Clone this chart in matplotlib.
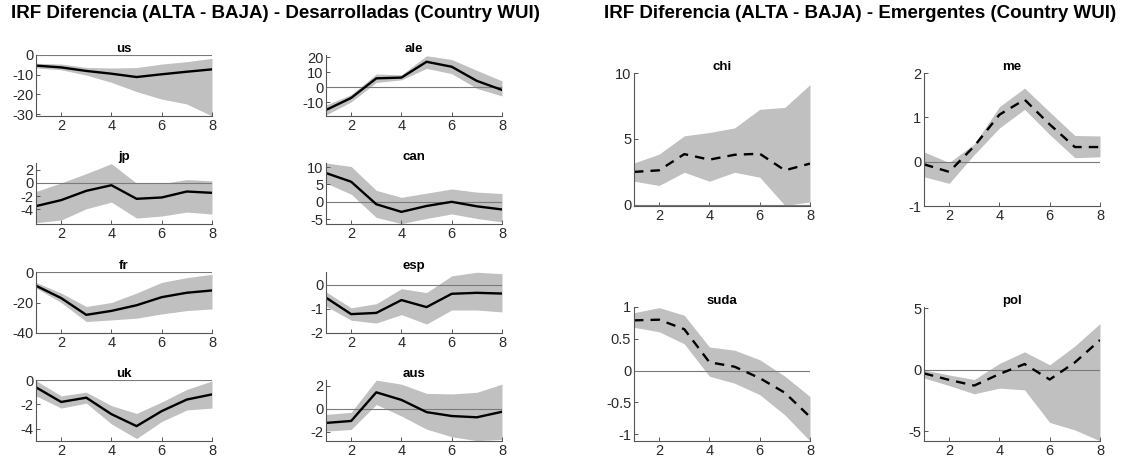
import numpy as np
import matplotlib
matplotlib.use("Agg")
import matplotlib.pyplot as plt

plt.rcParams["font.family"] = ["Liberation Sans", "DejaVu Sans"]

horizons = [1, 2, 3, 4, 5, 6, 7, 8]

# --- Desarrolladas ---
us_irf = [-5.4, -6.3, -8.1, -9.5, -11.2, -9.8, -8.5, -7.3]
us_hi = [-4.2, -4.6, -6.3, -6.6, -6.4, -4.6, -3.4, -1.7]
us_lo = [-6.6, -7.5, -10.2, -13.9, -18.6, -22.4, -24.9, -31.0]

ale_irf = [-15.0, -7.0, 6.0, 6.5, 17.0, 13.7, 4.3, -1.7]
ale_hi = [-11.7, -4.8, 8.9, 8.3, 21.0, 18.5, 11.3, 4.3]
ale_lo = [-18.3, -9.6, 3.3, 5.0, 12.6, 9.1, -0.7, -5.7]

jp_irf = [-3.5, -2.6, -1.2, -0.35, -2.4, -2.2, -1.3, -1.5]
jp_hi = [-1.3, 0.0, 1.4, 2.9, -0.05, -0.1, 0.5, 0.3]
jp_lo = [-6.0, -5.6, -3.9, -2.9, -5.3, -5.0, -4.4, -4.7]

can_irf = [8.3, 5.8, -0.7, -2.9, -1.2, 0.0, -1.3, -2.2]
can_hi = [11.2, 10.2, 3.3, 1.3, 2.5, 3.7, 2.8, 2.4]
can_lo = [5.4, 2.2, -4.5, -6.3, -4.8, -3.5, -4.8, -5.8]

fr_irf = [-9.0, -17.1, -28.1, -25.5, -21.8, -16.5, -13.6, -12.1]
fr_hi = [-6.8, -13.8, -22.6, -20.0, -13.8, -6.8, -3.7, -1.5]
fr_lo = [-10.5, -20.0, -32.5, -31.4, -30.3, -27.5, -25.3, -24.2]

esp_irf = [-0.54, -1.22, -1.17, -0.64, -0.93, -0.38, -0.34, -0.37]
esp_hi = [-0.30, -0.96, -0.79, -0.17, -0.33, 0.36, 0.51, 0.45]
esp_lo = [-0.89, -1.47, -1.59, -1.24, -1.63, -1.05, -1.05, -1.13]

uk_irf = [-0.6, -1.8, -1.45, -2.8, -3.78, -2.55, -1.6, -1.18]
uk_hi = [-0.05, -1.3, -1.0, -2.1, -2.74, -1.8, -0.77, -0.08]
uk_lo = [-1.3, -2.3, -1.9, -3.6, -4.8, -3.4, -2.46, -2.3]

aus_irf = [-1.23, -1.06, 1.43, 0.77, -0.29, -0.63, -0.74, -0.26]
aus_hi = [-0.49, -0.31, 2.49, 2.14, 1.34, 1.29, 1.43, 2.14]
aus_lo = [-1.94, -1.80, 0.37, -0.63, -1.77, -2.43, -2.77, -2.66]

# --- Emergentes ---
chi_irf = [2.49, 2.61, 3.84, 3.42, 3.79, 3.87, 2.61, 3.12]
chi_hi = [3.17, 3.84, 5.23, 5.48, 5.83, 7.24, 7.39, 9.12]
chi_lo = [1.78, 1.46, 2.46, 1.78, 2.46, 2.09, -0.05, 0.2]

me_irf = [-0.06, -0.23, 0.35, 1.06, 1.40, 0.84, 0.33, 0.33]
me_hi = [0.22, -0.02, 0.40, 1.24, 1.66, 1.12, 0.59, 0.58]
me_lo = [-0.34, -0.49, 0.16, 0.76, 1.18, 0.61, 0.09, 0.11]

suda_irf = [0.79, 0.80, 0.65, 0.13, 0.06, -0.12, -0.35, -0.73]
suda_hi = [0.91, 0.99, 0.87, 0.37, 0.32, 0.17, -0.09, -0.41]
suda_lo = [0.68, 0.61, 0.42, -0.09, -0.20, -0.38, -0.70, -1.11]

pol_irf = [-0.30, -0.83, -1.29, -0.35, 0.46, -0.80, 0.59, 2.41]
pol_hi = [-0.03, -0.43, -0.80, 0.51, 1.45, 0.40, 1.93, 3.75]
pol_lo = [-0.67, -1.29, -1.96, -1.50, -1.64, -4.29, -4.90, -5.79]

# name, irf, hi, lo, ylim, yticks
developed = [
    ("us", us_irf, us_hi, us_lo, (-31, 0), [-30, -20, -10, 0]),
    ("ale", ale_irf, ale_hi, ale_lo, (-19, 21.5), [-10, 0, 10, 20]),
    ("jp", jp_irf, jp_hi, jp_lo, (-6.2, 3.0), [-4, -2, 0, 2]),
    ("can", can_irf, can_hi, can_lo, (-6.4, 11.2), [-5, 0, 5, 10]),
    ("fr", fr_irf, fr_hi, fr_lo, (-40, 0), [-40, -20, 0]),
    ("esp", esp_irf, esp_hi, esp_lo, (-2, 0.52), [-2, -1, 0]),
    ("uk", uk_irf, uk_hi, uk_lo, (-5, 0), [-4, -2, 0]),
    ("aus", aus_irf, aus_hi, aus_lo, (-2.8, 2.5), [-2, 0, 2]),
]
emerging = [
    ("chi", chi_irf, chi_hi, chi_lo, (-0.1, 10), [0, 5, 10]),
    ("me", me_irf, me_hi, me_lo, (-1, 2), [-1, 0, 1, 2]),
    ("suda", suda_irf, suda_hi, suda_lo, (-1.11, 1.0), [-1, -0.5, 0, 0.5, 1]),
    ("pol", pol_irf, pol_hi, pol_lo, (-5.8, 5.1), [-5, 0, 5]),
]

W, H = 1142, 458
fig = plt.figure(figsize=(W / 100, H / 100), dpi=100)


def px_axes(x0, y0, x1, y1):
    return fig.add_axes([x0 / W, 1 - y1 / H, (x1 - x0) / W, (y1 - y0) / H])


def draw_panel(ax, name, irf, hi, lo, ylim, yticks, ls):
    ax.fill_between(horizons, lo, hi, color="#c0c0c0", lw=0)
    ax.axhline(0, color="#7a7a7a", lw=0.8)
    ax.plot(horizons, irf, color="black", lw=1.7, ls=ls,
            dashes=(4, 3) if ls == "--" else (None, None))
    ax.set_xlim(1, 8)
    ax.set_ylim(*ylim)
    ax.set_xticks([2, 4, 6, 8])
    ax.set_yticks(yticks)
    ax.set_yticklabels([f"{t:g}" for t in yticks])
    ax.set_title(name, fontsize=9.5, fontweight="bold", pad=2)
    for s in ["top", "right"]:
        ax.spines[s].set_visible(False)
    for s in ["left", "bottom"]:
        ax.spines[s].set_color("#555555")
        ax.spines[s].set_linewidth(0.8)
    ax.tick_params(direction="in", length=3, width=0.7, colors="#555555",
                   labelcolor="#2a2a2a", labelsize=10.5, pad=2)


# left group: 4 rows x 2 cols
row_tops = [55, 163, 272, 380]
col_lefts = [36, 326]
for i, (name, irf, hi, lo, ylim, yt) in enumerate(developed):
    r, c = divmod(i, 2)
    ax = px_axes(col_lefts[c], row_tops[r], col_lefts[c] + 176, row_tops[r] + 61)
    draw_panel(ax, name, irf, hi, lo, ylim, yt, "-")

# right group: 2 rows x 2 cols
r_tops = [73, 307]
r_bots = [206, 441]
r_lefts = [634, 924]
for i, (name, irf, hi, lo, ylim, yt) in enumerate(emerging):
    r, c = divmod(i, 2)
    ax = px_axes(r_lefts[c], r_tops[r], r_lefts[c] + 176, r_bots[r])
    draw_panel(ax, name, irf, hi, lo, ylim, yt, "--")

fig.text(275 / W, 1 - 14 / H, "IRF Diferencia (ALTA - BAJA) - Desarrolladas (Country WUI)",
         ha="center", va="center", fontsize=13.5, fontweight="bold")
fig.text(860 / W, 1 - 14 / H, "IRF Diferencia (ALTA - BAJA) - Emergentes (Country WUI)",
         ha="center", va="center", fontsize=13.5, fontweight="bold")

fig.savefig("out.png", dpi=100)
